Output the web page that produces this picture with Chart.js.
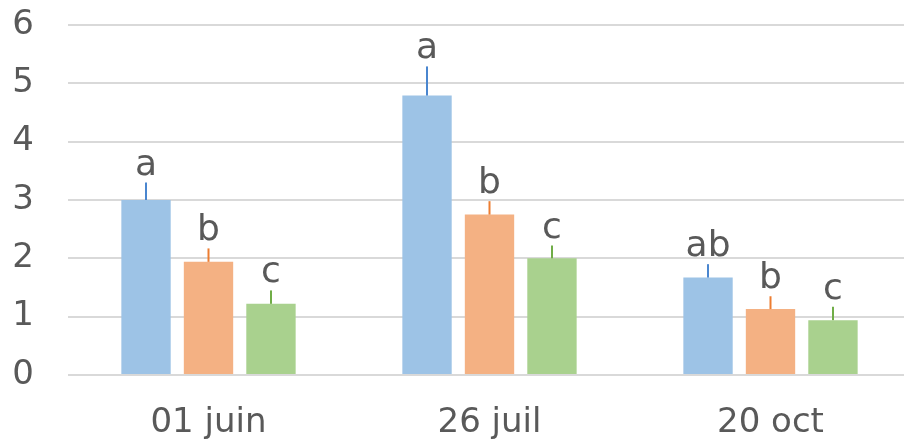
<!DOCTYPE html>
<html>
<head>
<meta charset="utf-8">
<script src="https://cdn.jsdelivr.net/npm/chart.js@4.4.1/dist/chart.umd.min.js"></script>
<style>
html,body{margin:0;padding:0;background:#fff;overflow:hidden;}
#wrap{width:904px;height:445px;position:relative;overflow:hidden;}
#c{position:absolute;left:0;top:0;}
</style>
</head>
<body>
<div id="wrap"><canvas id="c" width="911" height="445"></canvas></div>
<script>
const categories = ["01 juin", "26 juil", "20 oct"];
const seriesBlue = [3.0, 4.79, 1.67];
const seriesOrange = [1.94, 2.75, 1.13];
const seriesGreen = [1.22, 2.0, 0.94];
const errBlue = [0.30, 0.50, 0.23];
const errOrange = [0.23, 0.23, 0.22];
const errGreen = [0.23, 0.22, 0.23];
const lettersBlue = ["a", "a", "ab"];
const lettersOrange = ["b", "b", "b"];
const lettersGreen = ["c", "c", "c"];
const yTicks = [0, 1, 2, 3, 4, 5, 6];

const FONT = "'DejaVu Sans', sans-serif";
const TEXT = "#595959";

const errPlugin = {
  id: 'errLetters',
  afterDatasetsDraw(chart) {
    const ctx = chart.ctx;
    const y = chart.scales.y;
    chart.data.datasets.forEach((ds, i) => {
      const meta = chart.getDatasetMeta(i);
      meta.data.forEach((bar, j) => {
        const top = y.getPixelForValue(ds.data[j] + ds.errs[j]);
        ctx.save();
        ctx.strokeStyle = ds.errColor;
        ctx.lineWidth = 2;
        ctx.beginPath();
        ctx.moveTo(bar.x, bar.y);
        ctx.lineTo(bar.x, top);
        ctx.stroke();
        ctx.fillStyle = TEXT;
        ctx.font = "36px " + FONT;
        ctx.textAlign = 'center';
        ctx.textBaseline = 'alphabetic';
        ctx.fillText(ds.letters[j], bar.x, top - 8);
        ctx.restore();
      });
    });
  }
};

new Chart(document.getElementById('c'), {
  type: 'bar',
  data: {
    labels: categories,
    datasets: [
      {data: seriesBlue, errs: errBlue, letters: lettersBlue, backgroundColor: '#9DC3E6', errColor: '#4A86CF'},
      {data: seriesOrange, errs: errOrange, letters: lettersOrange, backgroundColor: '#F4B183', errColor: '#ED7D31'},
      {data: seriesGreen, errs: errGreen, letters: lettersGreen, backgroundColor: '#A9D18E', errColor: '#70AD47'}
    ]
  },
  options: {
    responsive: false,
    animation: false,
    devicePixelRatio: 1,
    layout: {padding: {top: 25, right: 0, left: 0, bottom: 0}},
    plugins: {legend: {display: false}, tooltip: {enabled: false}},
    datasets: {bar: {categoryPercentage: 0.667, barPercentage: 0.79}},
    scales: {
      x: {
        grid: {display: false},
        border: {display: false},
        ticks: {color: TEXT, font: {family: FONT, size: 34}, padding: 20},
        afterFit(s) { s.height = 70; }
      },
      y: {
        min: 0, max: 6,
        afterBuildTicks(s) { s.ticks = yTicks.map(v => ({value: v})); },
        grid: {color: '#D9D9D9', lineWidth: 2, drawTicks: false},
        border: {display: false},
        ticks: {color: TEXT, font: {family: FONT, size: 34}, padding: 34},
        afterFit(s) { s.width = 68; s.paddingTop = 0; s.paddingBottom = 0; }
      }
    }
  },
  plugins: [errPlugin]
});
</script>
</body>
</html>
